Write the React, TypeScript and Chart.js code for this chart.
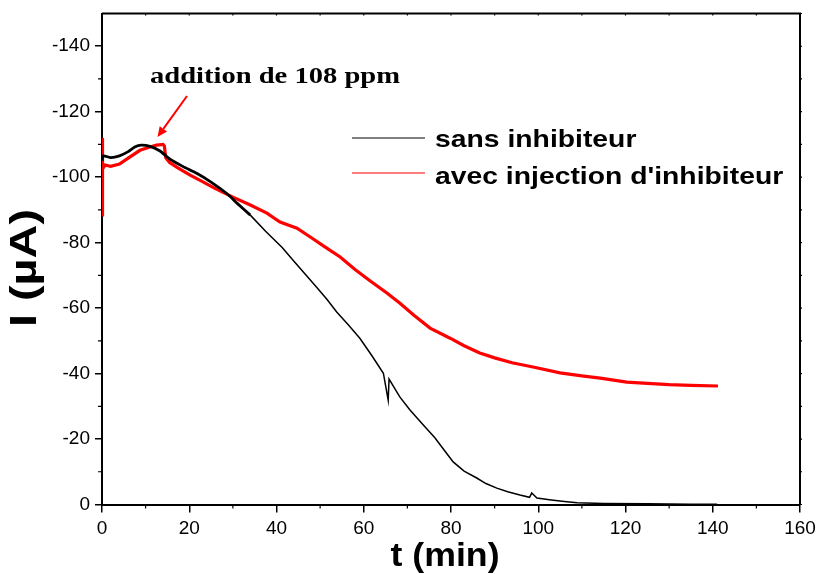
import React, { useEffect, useRef } from "react";
import { Chart, registerables } from "chart.js";

Chart.register(...registerables);

// Time axis (min) and current (µA) for "sans inhibiteur"
const blackT = [0, 0.3, 2, 4, 6, 7.5, 9, 11, 13.3, 15.6, 18.5, 21.8, 25, 28.6, 31, 34, 37.5, 41.3, 43.8, 46.5, 49.2, 51.5, 53.8, 56.5, 59.1, 61.8, 64.5, 65.6, 65.8, 68.3, 70.6, 73.5, 76.3, 78.5, 80.5, 83, 85.9, 88, 90.5, 93, 95.8, 98, 98.5, 99.7, 103, 106, 108.9, 115, 125, 135, 141];
const blackI = [-105, -106.5, -106, -106.5, -107.8, -109.2, -109.8, -109.4, -108, -105.5, -103.3, -101.1, -98.5, -95, -92, -88.4, -83.5, -78.5, -74.6, -70.5, -66.4, -62.8, -58.8, -54.8, -50.8, -45.6, -40.1, -31.9, -38.3, -32.8, -28.9, -24.5, -20.4, -16.5, -13, -10.2, -8.1, -6.4, -5.0, -3.9, -2.9, -2.2, -3.5, -2.0, -1.4, -0.9, -0.5, -0.3, -0.2, -0.1, -0.1];

// "avec injection d'inhibiteur"
const redT = [0, 0.05, 0.1, 0.2, 0.7, 2, 4, 6, 8.7, 11, 12.5, 14, 14.3, 14.6, 15.5, 17.2, 20.2, 22.5, 26, 30, 34, 37.8, 40.8, 44.7, 48, 51, 54.6, 58, 61.5, 65.3, 68.3, 71.5, 75.2, 79.8, 83, 86.6, 90, 94, 98.8, 105, 110, 114.2, 120.3, 125, 130, 135, 141.2];
const redI = [-112, -88, -100, -102.5, -103.7, -103.3, -104, -105.8, -108.2, -109.2, -109.8, -110, -109.5, -106, -104.5, -103, -100.6, -99, -96.5, -93.9, -91.5, -89, -86.3, -84.4, -81.5, -78.8, -75.6, -71.8, -68.3, -64.6, -61.5, -57.8, -53.9, -50.8, -48.5, -46.3, -44.8, -43.3, -42, -40.2, -39.3, -38.6, -37.4, -37, -36.6, -36.4, -36.2];

const xTicks = [0, 20, 40, 60, 80, 100, 120, 140, 160];
const yTicks = [-140, -120, -100, -80, -60, -40, -20, 0];
const seriesLabels = ["sans inhibiteur", "avec injection d'inhibiteur"];
const annotationText = "addition de 108 ppm";
const xTitle = "t (min)";
const yTitle = "I (µA)";

const NOISY_END = 35; // early noisy part drawn thicker

function pts(t: number[], v: number[], from: number, to: number) {
  const out: { x: number; y: number }[] = [];
  for (let i = 0; i < t.length; i++) {
    if (t[i] >= from && t[i] <= to) out.push({ x: t[i], y: v[i] });
  }
  return out;
}

function stretchedText(ctx: CanvasRenderingContext2D, text: string, x: number, y: number, sx: number) {
  ctx.save();
  ctx.translate(x, y);
  ctx.scale(sx, 1);
  ctx.fillText(text, 0, 0);
  ctx.restore();
}

const decorPlugin = {
  id: "decor",
  afterDraw(chart: any) {
    const ctx: CanvasRenderingContext2D = chart.ctx;
    const xs = chart.scales.x;
    const ys = chart.scales.y;
    const { left, right, top, bottom } = chart.chartArea;
    ctx.save();
    // top and right frame
    ctx.strokeStyle = "#000";
    ctx.lineWidth = 2;
    ctx.beginPath();
    ctx.moveTo(left, top);
    ctx.lineTo(right, top);
    ctx.lineTo(right, bottom);
    ctx.stroke();
    // minor ticks
    ctx.lineWidth = 1.2;
    ctx.beginPath();
    for (let v = 10; v < 160; v += 20) {
      const px = xs.getPixelForValue(v);
      ctx.moveTo(px, bottom);
      ctx.lineTo(px, bottom + 4);
    }
    for (let v = 0; v <= 160; v += 10) {
      const px = xs.getPixelForValue(v);
      ctx.moveTo(px, top);
      ctx.lineTo(px, top + 2);
    }
    for (let v = -10; v > -150; v -= 20) {
      const py = ys.getPixelForValue(v);
      ctx.moveTo(left, py);
      ctx.lineTo(left - 4, py);
    }
    for (let v = 0; v >= -150; v -= 10) {
      const py = ys.getPixelForValue(v);
      ctx.moveTo(right, py);
      ctx.lineTo(right + 2, py);
    }
    ctx.stroke();

    // legend
    ctx.lineWidth = 1.2;
    ctx.strokeStyle = "#000";
    ctx.beginPath();
    ctx.moveTo(352, 138);
    ctx.lineTo(425, 138);
    ctx.stroke();
    ctx.strokeStyle = "#ff0000";
    ctx.beginPath();
    ctx.moveTo(352, 173);
    ctx.lineTo(425, 173);
    ctx.stroke();
    ctx.fillStyle = "#000";
    ctx.textBaseline = "alphabetic";
    ctx.textAlign = "left";
    ctx.font = "bold 24px 'Liberation Sans', Arial, sans-serif";
    stretchedText(ctx, seriesLabels[0], 435, 147, 1.18);
    stretchedText(ctx, seriesLabels[1], 435, 184, 1.18);

    // annotation
    ctx.font = "bold 24px 'Liberation Serif', 'Times New Roman', serif";
    stretchedText(ctx, annotationText, 150, 83, 1.19);
    // arrow
    ctx.strokeStyle = "#ff0000";
    ctx.fillStyle = "#ff0000";
    ctx.lineWidth = 2;
    const x1 = 187, y1 = 96, x2 = 157.5, y2 = 137;
    const ang = Math.atan2(y2 - y1, x2 - x1);
    const hl = 10, hw = 4.5;
    const bx = x2 - hl * Math.cos(ang), by = y2 - hl * Math.sin(ang);
    ctx.beginPath();
    ctx.moveTo(x1, y1);
    ctx.lineTo(bx, by);
    ctx.stroke();
    ctx.beginPath();
    ctx.moveTo(x2, y2);
    ctx.lineTo(bx + hw * Math.sin(ang), by - hw * Math.cos(ang));
    ctx.lineTo(bx - hw * Math.sin(ang), by + hw * Math.cos(ang));
    ctx.closePath();
    ctx.fill();

    // axis titles
    ctx.fillStyle = "#000";
    ctx.font = "bold 34px 'Liberation Sans', Arial, sans-serif";
    ctx.textAlign = "center";
    ctx.textBaseline = "alphabetic";
    stretchedText(ctx, xTitle, 445, 566, 1.05);
    ctx.save();
    ctx.translate(36, 268);
    ctx.rotate(-Math.PI / 2);
    ctx.font = "bold 36px 'Liberation Sans', Arial, sans-serif";
    stretchedText(ctx, yTitle, 0, 0, 1.3);
    ctx.restore();
    ctx.restore();
  },
};

export default function App() {
  const ref = useRef<HTMLCanvasElement | null>(null);
  useEffect(() => {
    if (!ref.current) return;
    const tickFont = { family: "'Liberation Sans', Arial, sans-serif", size: 19 };
    const chart = new Chart(ref.current, {
      type: "line",
      data: {
        datasets: [
          {
            label: seriesLabels[0] + " (début)",
            data: pts(blackT, blackI, 0, NOISY_END),
            borderColor: "#000",
            borderWidth: 2.8,
            pointRadius: 0,
            tension: 0.2,
          },
          {
            label: seriesLabels[0],
            data: pts(blackT, blackI, 34, 1000),
            borderColor: "#000",
            borderWidth: 1.5,
            pointRadius: 0,
            tension: 0,
          },
          {
            label: seriesLabels[1],
            data: pts(redT, redI, 0, 1000),
            borderColor: "#ff0000",
            borderWidth: 3.2,
            pointRadius: 0,
            tension: 0,
          },
        ],
      },
      options: {
        animation: false,
        responsive: false,
        parsing: false as any,
        layout: { padding: { top: 13.5, right: 16, left: 0, bottom: 0 } },
        plugins: { legend: { display: false }, tooltip: { enabled: false } },
        scales: {
          x: {
            type: "linear",
            min: 0,
            max: 160,
            afterBuildTicks: (s: any) => {
              s.ticks = xTicks.map((v) => ({ value: v }));
            },
            afterFit: (s: any) => {
              s.height = 69.5;
              s.paddingLeft = 0;
              s.paddingRight = 0;
            },
            ticks: { font: tickFont, color: "#000", padding: 5, maxRotation: 0 },
            grid: { drawOnChartArea: false, drawTicks: true, tickLength: 8, color: "#000", lineWidth: 1.5 },
            border: { display: true, color: "#000", width: 2 },
          },
          y: {
            type: "linear",
            min: -150,
            max: 0,
            reverse: true,
            afterBuildTicks: (s: any) => {
              s.ticks = yTicks.map((v) => ({ value: v }));
            },
            afterFit: (s: any) => {
              s.width = 102;
              s.paddingTop = 0;
              s.paddingBottom = 0;
            },
            ticks: { font: tickFont, color: "#000", padding: 5 },
            grid: { drawOnChartArea: false, drawTicks: true, tickLength: 7, color: "#000", lineWidth: 1.5 },
            border: { display: true, color: "#000", width: 2 },
          },
        },
      },
      plugins: [decorPlugin],
    } as any);
    return () => chart.destroy();
  }, []);
  return (
    <div style={{ position: "fixed", left: 0, top: 0, width: 816, height: 574, background: "#fff" }}>
      <canvas ref={ref} width={816} height={574} style={{ width: 816, height: 574, display: "block" }} />
    </div>
  );
}
